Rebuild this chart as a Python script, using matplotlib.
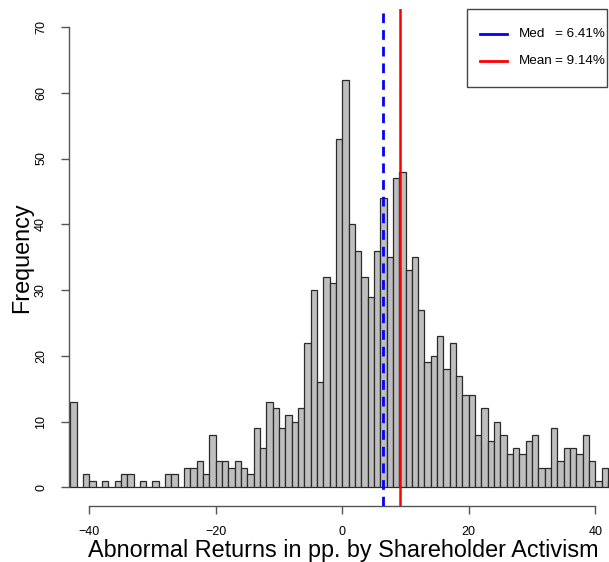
import numpy as np
import matplotlib
matplotlib.use("Agg")
import matplotlib.pyplot as plt
from matplotlib.patches import Rectangle
from matplotlib.lines import Line2D

plt.rcParams['font.family'] = ['Liberation Sans', 'DejaVu Sans']

# histogram: left edges of 1 pp bins and their counts
bin_left = np.arange(-43, 43)
counts = [13, 0, 2, 1, 0, 1, 0, 1, 2, 2,
          0, 1, 0, 1, 0, 2, 2, 0, 3, 3,
          4, 2, 8, 4, 4, 3, 4, 3, 2, 9,
          6, 13, 12, 9, 11, 10, 12, 22, 30, 16,
          32, 31, 53, 62, 40, 36, 32, 29, 36, 44,
          35, 47, 48, 33, 35, 27, 19, 20, 23, 18,
          22, 17, 14, 14, 8, 12, 7, 10, 8, 5,
          6, 5, 7, 8, 3, 3, 9, 4, 6, 6,
          5, 8, 4, 1, 3, 1]
med = 6.41
mean = 9.14
x_ticks = [-40, -20, 0, 20, 40]
y_ticks = [0, 10, 20, 30, 40, 50, 60, 70]

W, H = 609, 562
fig = plt.figure(figsize=(W / 100, H / 100), dpi=100)

# plot region in pixels (R style, 4% padding around xlim/ylim)
left_px, right_px, top_px, bot_px = 69, 615.5, 8.6, 505.7
ax = fig.add_axes([left_px / W, 1 - bot_px / H,
                   (right_px - left_px) / W, (bot_px - top_px) / H])

ax.bar(bin_left, counts, width=1, align='edge', color='#BEBEBE',
       edgecolor='#2a2a2a', linewidth=0.9, zorder=2)

ax.axvline(med, color='#0000FF', lw=2, dashes=(3.5, 2.5), zorder=3)
ax.axvline(mean, color='#FF0000', lw=1.8, zorder=3)

ax.set_xlim(-43.2, 43.2)
ax.set_ylim(-2.8, 72.8)

for s in ['top', 'right']:
    ax.spines[s].set_visible(False)
ax.spines['left'].set_bounds(0, 70)
ax.spines['bottom'].set_bounds(-40, 40)
for s in ['left', 'bottom']:
    ax.spines[s].set_color('#555555')
    ax.spines[s].set_linewidth(1)

ax.set_xticks(x_ticks)
ax.set_yticks(y_ticks)
ax.tick_params(axis='both', length=5.8, width=1, color='#555555',
               labelsize=9, labelcolor='black')
ax.tick_params(axis='x', pad=9)
ax.tick_params(axis='y', pad=10)
for lab in ax.get_yticklabels():
    lab.set_rotation(90)
    lab.set_va('center')

ax.set_xlabel('Abnormal Returns in pp. by Shareholder Activism', fontsize=16.8)
ax.set_ylabel('Frequency', fontsize=16.8)
ax.xaxis.label.set_va('center')
ax.yaxis.label.set_va('center')
ax.xaxis.set_label_coords((343 - left_px) / (right_px - left_px),
                          -(551 - bot_px) / (bot_px - top_px))
ax.yaxis.set_label_coords(-(left_px - 22) / (right_px - left_px),
                          (bot_px - 258) / (bot_px - top_px))


def fx(px):
    return px / W


def fy(py):
    return 1 - py / H


# legend box
fig.add_artist(Rectangle((fx(467.3), fy(86.7)), fx(606.7) - fx(467.3),
                         fy(9) - fy(86.7), transform=fig.transFigure,
                         facecolor='white', edgecolor='#444444', lw=1, zorder=5))
leg_rows = [('Med', '= 6.41%', '#0000FF', 34), ('Mean', '= 9.14%', '#FF0000', 60.7)]
for name, val, col, py in leg_rows:
    fig.add_artist(Line2D([fx(480), fx(506.7)], [fy(py), fy(py)],
                          transform=fig.transFigure, color=col, lw=2, zorder=6))
    fig.text(fx(519), fy(py), name, fontsize=9.7, va='center', ha='left', zorder=6)
    fig.text(fx(555), fy(py), val, fontsize=9.7, va='center', ha='left', zorder=6)

fig.savefig('out.png', dpi=100)
